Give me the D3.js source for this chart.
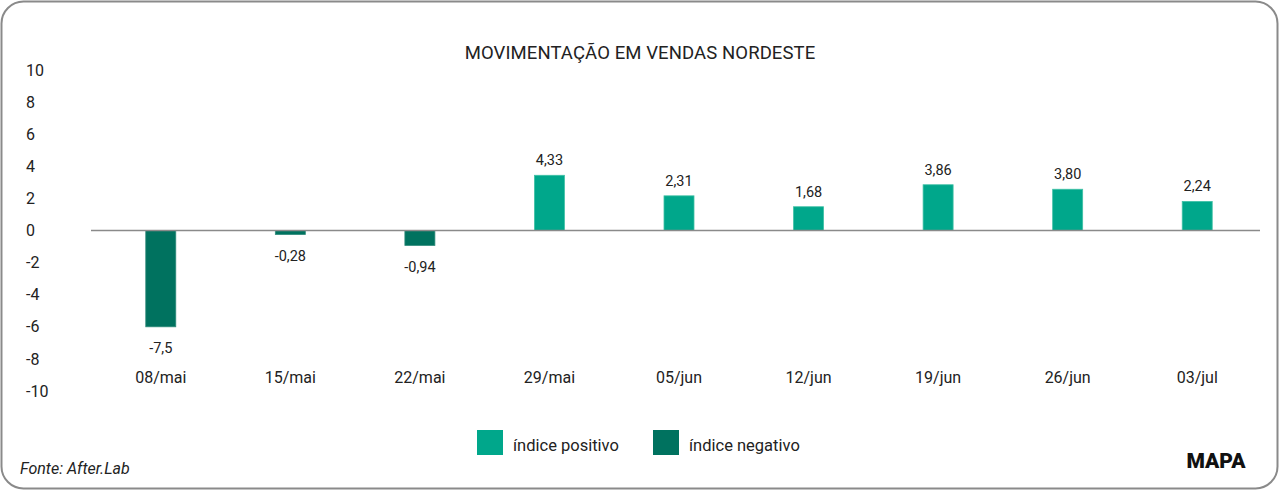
<!DOCTYPE html>
<html><head><meta charset="utf-8">
<script src="https://cdn.jsdelivr.net/npm/d3@7"></script>
<style>
html,body{margin:0;padding:0;background:#fff;}
text{font-family:Roboto,"Noto Sans",sans-serif;fill:#222;}
</style></head>
<body>
<svg id="c" width="1280" height="491"></svg>
<script>
const categories = ["08/mai","15/mai","22/mai","29/mai","05/jun","12/jun","19/jun","26/jun","03/jul"];
// bar heights as drawn in the picture
const barValues = [-6.0, -0.25, -0.93, 3.44, 2.16, 1.48, 2.85, 2.57, 1.81];
// value labels as printed
const valueLabels = ["-7,5","-0,28","-0,94","4,33","2,31","1,68","3,86","3,80","2,24"];
const yTicks = [10,8,6,4,2,0,-2,-4,-6,-8,-10];
const seriesNames = ["índice positivo","índice negativo"];
const colors = {pos:"#00a78b", neg:"#00725f"};

const svg = d3.select("#c");
svg.append("rect").attr("x",1.5).attr("y",1.5).attr("width",1276).attr("height",487)
  .attr("rx",22).attr("fill","#fff").attr("stroke","#8a8a8a").attr("stroke-width",2);

svg.append("text").attr("x",640).attr("y",59).attr("text-anchor","middle")
  .style("font-size","18.5px").style("letter-spacing","0.1px").text("MOVIMENTAÇÃO EM VENDAS NORDESTE");

const x = d3.scaleBand().domain(categories).range([96,1262]).paddingInner(0).paddingOuter(0);
const y = d3.scaleLinear().domain([-10,10]).range([391,70]);
const bw = 30;
const axisX = [91,1260];

// y tick labels
svg.append("g").selectAll("text").data(yTicks).join("text")
  .attr("x",26).attr("y",d=>y(d)).attr("dy","0.35em")
  .style("font-size","16px").text(d=>String(d));

// bars
svg.append("g").selectAll("rect").data(barValues).join("rect")
  .attr("x",(d,i)=>x(categories[i])+x.bandwidth()/2-bw/2)
  .attr("width",bw)
  .attr("y",d=>d>=0?y(d):y(0))
  .attr("height",d=>Math.abs(y(d)-y(0)))
  .attr("fill",d=>d>=0?colors.pos:colors.neg)
  .attr("stroke",d=>d>=0?"#3fc0a6":"#2f8a7a").attr("stroke-width",0.8);

// zero line
svg.append("line").attr("x1",axisX[0]).attr("x2",axisX[1]).attr("y1",y(0)).attr("y2",y(0))
  .attr("stroke","#8a8a8a").attr("stroke-width",1.6);

// value labels
svg.append("g").selectAll("text").data(barValues).join("text")
  .attr("x",(d,i)=>x(categories[i])+x.bandwidth()/2)
  .attr("y",d=>d>=0?y(d)-10:y(d)+21)
  .attr("dy",d=>d>=0?"0":"0.35em")
  .attr("text-anchor","middle").style("font-size","14.5px")
  .text((d,i)=>valueLabels[i]);

// category labels
svg.append("g").selectAll("text").data(categories).join("text")
  .attr("x",d=>x(d)+x.bandwidth()/2).attr("y",377).attr("dy","0.35em")
  .attr("text-anchor","middle").style("font-size","16px").text(d=>d);

// legend
const leg = [{n:seriesNames[0],c:colors.pos,x:477},{n:seriesNames[1],c:colors.neg,x:653}];
const lg = svg.append("g").selectAll("g").data(leg).join("g");
lg.append("rect").attr("x",d=>d.x).attr("y",430).attr("width",26).attr("height",25).attr("fill",d=>d.c);
lg.append("text").attr("x",d=>d.x+36).attr("y",446).attr("dy","0.3em").style("font-size","16.5px").text(d=>d.n);

svg.append("text").attr("x",20).attr("y",468).attr("dy","0.35em")
  .style("font-size","16px").style("font-style","italic").text("Fonte: After.Lab");

svg.append("text").attr("x",1216).attr("y",461).attr("dy","0.35em").attr("text-anchor","middle")
  .style("font-size","21px").style("font-weight","900").style("fill","#111").text("MAPA");
</script>
</body></html>
